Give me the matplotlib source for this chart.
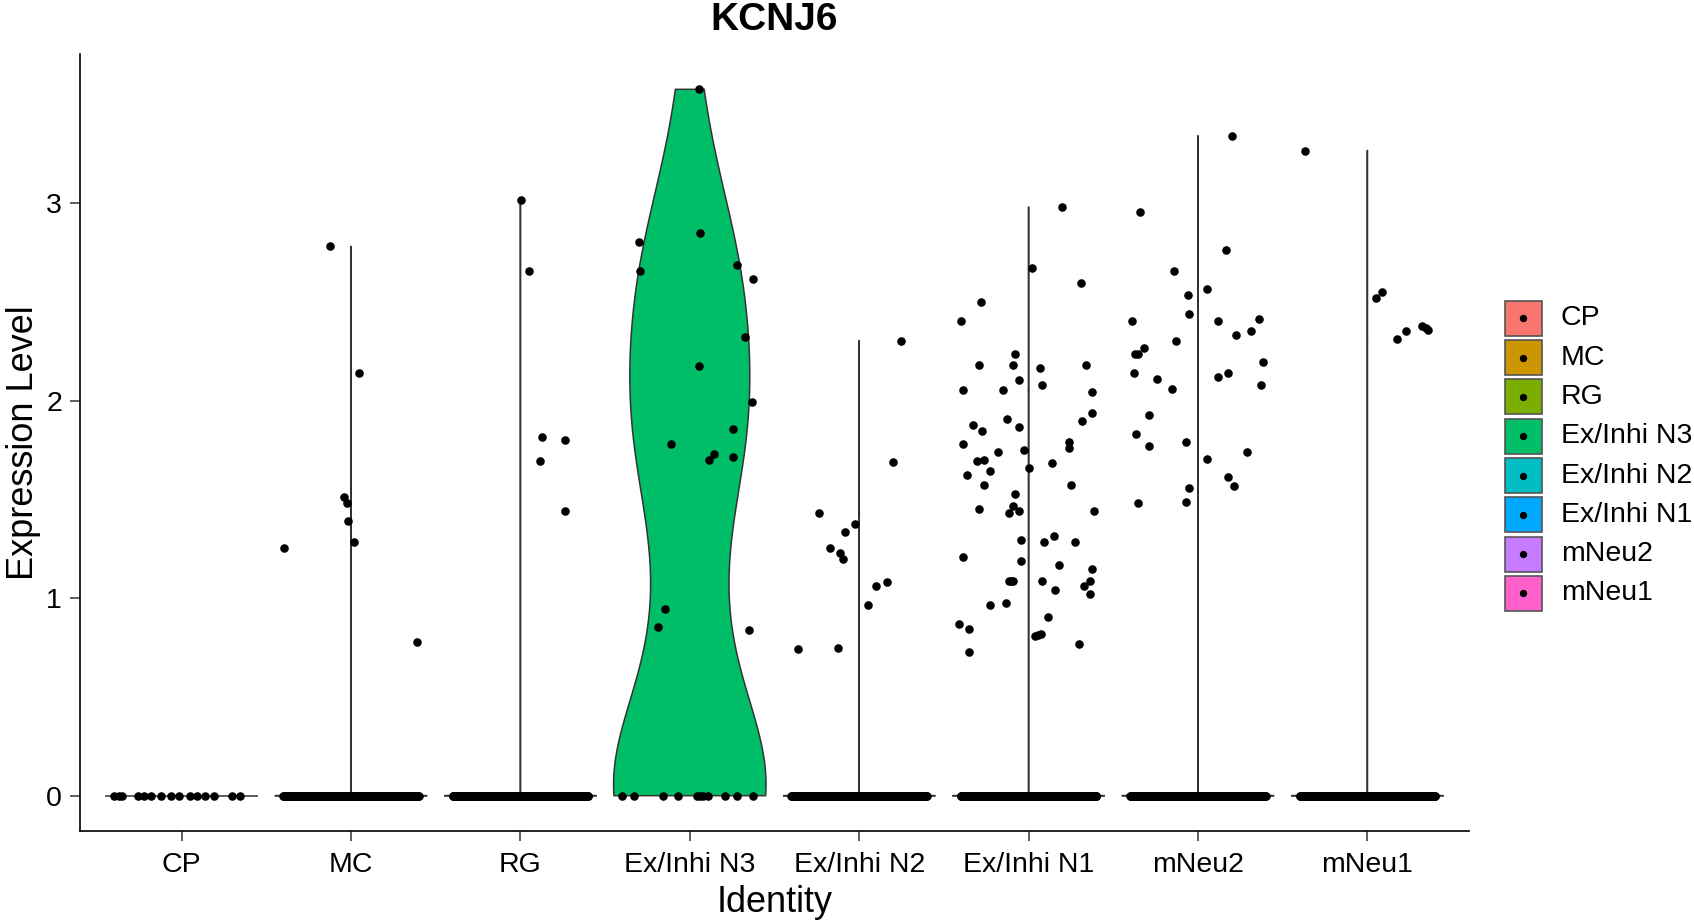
import numpy as np
import matplotlib
matplotlib.use("Agg")
import matplotlib.pyplot as plt
from matplotlib.patches import Rectangle

plt.rcParams['font.family'] = ['Liberation Sans', 'DejaVu Sans']

# Cell identities and their ggplot hue colours
identities = ['CP', 'MC', 'RG', 'Ex/Inhi N3', 'Ex/Inhi N2', 'Ex/Inhi N1', 'mNeu2', 'mNeu1']
colors = ['#F8766D', '#CD9600', '#7CAE00', '#00BE67', '#00BFC4', '#00A9FF', '#C77CFF', '#FF61CC']

# number of cells with zero expression in each identity
zero_counts = [15, 280, 320, 11, 260, 380, 300, 260]

# horizontal jitter of the zero cells where the points are sparse
cp_zero_jitter = [-0.40, -0.37, -0.35, -0.26, -0.22, -0.18, -0.12, -0.06,
                  -0.015, 0.05, 0.09, 0.14, 0.19, 0.30, 0.345]
n3_zero_jitter = [-0.40, -0.33, -0.16, -0.07, 0.04, 0.06, 0.08, 0.11, 0.21, 0.28, 0.375]

# non-zero expression values and their jitter
cp_expr = []
cp_jitter = []

mc_expr = [1.256, 2.782, 2.141, 1.511, 1.481, 1.393, 1.286, 0.780]
mc_jitter = [-0.395, -0.124, 0.049, -0.041, -0.022, -0.019, 0.016, 0.39]

rg_expr = [3.015, 2.656, 1.819, 1.80, 1.695, 1.442]
rg_jitter = [0.004, 0.05, 0.128, 0.266, 0.118, 0.266]

n3_expr = [3.578, 2.803, 2.658, 2.852, 2.687, 2.617, 2.324, 2.179, 1.995,
           1.859, 1.782, 1.733, 1.702, 1.714, 0.944, 0.855, 0.838]
n3_jitter = [0.056, -0.30, -0.295, 0.062, 0.28, 0.375, 0.324, 0.056, 0.369,
             0.254, -0.11, 0.145, 0.114, 0.254, -0.148, -0.19, 0.35]

n2_expr = [2.305, 1.691, 1.430, 1.374, 1.334, 1.256, 1.228, 1.197, 1.081,
           1.061, 0.965, 0.742, 0.750]
n2_jitter = [0.248, 0.202, -0.24, -0.024, -0.081, -0.171, -0.116, -0.093, 0.167,
             0.1, 0.053, -0.364, -0.125]

n1_expr = [2.982, 2.671, 2.597, 2.499, 2.403, 2.239, 2.180, 2.180, 2.168, 2.180,
           2.104, 2.054, 2.054, 2.082, 2.044, 1.936, 1.907, 1.897, 1.878, 1.848,
           1.868, 1.780, 1.791, 1.762, 1.742, 1.752, 1.693, 1.701, 1.662, 1.683,
           1.644, 1.625, 1.575, 1.575, 1.528, 1.468, 1.450, 1.430, 1.440, 1.440,
           1.293, 1.283, 1.314, 1.283, 1.207, 1.187, 1.167, 1.148, 1.089, 1.089,
           1.089, 1.089, 1.089, 1.042, 1.062, 1.022, 0.965, 0.975, 0.904, 0.869,
           0.846, 0.809, 0.813, 0.819, 0.769, 0.730]
n1_jitter = [0.2, 0.02, 0.307, -0.283, -0.397, -0.08, -0.294, -0.092, 0.065, 0.337,
             -0.057, -0.388, -0.15, 0.081, 0.374, 0.374, -0.126, 0.318, -0.33, -0.273,
             -0.057, -0.388, 0.239, 0.239, -0.183, -0.027, -0.307, -0.261, 0.0, 0.136,
             -0.226, -0.362, -0.261, 0.249, -0.08, -0.092, -0.295, -0.114, -0.057, 0.384,
             -0.047, 0.091, 0.148, 0.272, -0.388, -0.047, 0.18, 0.374, -0.114, -0.102,
             -0.09, 0.079, 0.362, 0.156, 0.327, 0.362, -0.226, -0.136, 0.112, -0.409,
             -0.352, 0.035, 0.056, 0.072, 0.295, -0.352]

mneu2_expr = [3.343, 2.956, 2.762, 2.656, 2.568, 2.538, 2.442, 2.403, 2.403, 2.413,
              2.356, 2.335, 2.305, 2.268, 2.239, 2.239, 2.198, 2.141, 2.121, 2.141,
              2.111, 2.082, 2.062, 1.926, 1.830, 1.770, 1.791, 1.742, 1.703, 1.615,
              1.568, 1.556, 1.481, 1.489]
mneu2_jitter = [0.2, -0.344, 0.166, -0.139, 0.051, -0.061, -0.051, -0.389, 0.119, 0.361,
                0.313, 0.223, -0.128, -0.321, -0.37, -0.354, 0.382, -0.38, 0.119, 0.175,
                -0.241, 0.37, -0.153, -0.287, -0.368, -0.287, -0.073, 0.29, 0.051, 0.175,
                0.211, -0.051, -0.356, -0.073]

mneu1_expr = [3.268, 2.549, 2.519, 2.356, 2.315, 2.377, 2.367, 2.361]
mneu1_jitter = [-0.37, 0.085, 0.051, 0.23, 0.173, 0.323, 0.344, 0.36]

expr = [cp_expr, mc_expr, rg_expr, n3_expr, n2_expr, n1_expr, mneu2_expr, mneu1_expr]
jitter = [cp_jitter, mc_jitter, rg_jitter, n3_jitter, n2_jitter, n1_jitter,
          mneu2_jitter, mneu1_jitter]


def violin_outline(values, adjust=0.9, n=512):
    """Gaussian KDE over the data range (trimmed), scaled to unit max width."""
    values = np.asarray(values, dtype=float)
    lo_v, hi_v = values.min(), values.max()
    if hi_v == lo_v:
        return np.array([lo_v, hi_v]), np.array([1.0, 1.0])
    sd = values.std(ddof=1)
    q25, q75 = np.percentile(values, [25, 75])
    iqr = (q75 - q25) / 1.34
    spread = min(sd, iqr) if iqr > 0 else 1e-3
    bw = adjust * 0.9 * spread * len(values) ** -0.2
    grid = np.linspace(lo_v, hi_v, n)
    dens = np.exp(-0.5 * ((grid[:, None] - values[None, :]) / bw) ** 2).sum(axis=1)
    return grid, dens / dens.max()


fig = plt.figure(figsize=(16.94, 9.22), dpi=100)
ax = fig.add_axes([80 / 1694, 1 - 831 / 922, 1389 / 1694, 777 / 922])

all_max = 0
for i, name in enumerate(identities):
    nz = zero_counts[i]
    vals = np.concatenate([np.zeros(nz), np.asarray(expr[i], dtype=float)])
    all_max = max(all_max, vals.max())
    grid, w = violin_outline(vals)
    half = 0.45 * w
    xs = np.concatenate([i + half, (i - half)[::-1]])
    ys = np.concatenate([grid, grid[::-1]])
    ax.fill(xs, ys, facecolor=colors[i], edgecolor='#333333', linewidth=1.1, zorder=2)

for i, name in enumerate(identities):
    nz = zero_counts[i]
    if name == 'CP':
        zj = np.asarray(cp_zero_jitter)
    elif name == 'Ex/Inhi N3':
        zj = np.asarray(n3_zero_jitter)
    else:
        zj = np.linspace(-0.4, 0.4, nz)
    px = np.concatenate([i + zj, i + np.asarray(jitter[i], dtype=float)])
    py = np.concatenate([np.zeros(len(zj)), np.asarray(expr[i], dtype=float)])
    ax.scatter(px, py, s=38, color='black', linewidths=0, zorder=3)

pad = all_max * 0.05
ax.set_ylim(-pad, all_max + pad)
ax.set_xlim(-0.6, len(identities) - 0.4)
ax.set_xticks(range(len(identities)))
ax.set_xticklabels(identities)
ax.set_yticks([0, 1, 2, 3])
ax.tick_params(axis='both', labelsize=20.5, length=7, width=1.1, color='#333333',
               labelcolor='black')
ax.tick_params(axis='x', pad=8)
ax.tick_params(axis='y', pad=6)
for side in ['top', 'right']:
    ax.spines[side].set_visible(False)
for side in ['left', 'bottom']:
    ax.spines[side].set_linewidth(1.2)
    ax.spines[side].set_color('black')

ax.set_title('KCNJ6', fontsize=28, fontweight='bold', pad=17)
ax.set_xlabel('Identity', fontsize=26, labelpad=5)
ax.set_ylabel('Expression Level', fontsize=26, labelpad=4)

# legend drawn in pixel coordinates
leg = fig.add_axes([0, 0, 1, 1], zorder=5)
leg.set_xlim(0, 1694)
leg.set_ylim(922, 0)
leg.axis('off')
for k, name in enumerate(identities):
    cy = 318.3 + k * 39.3
    leg.add_patch(Rectangle((1505, cy - 17.5), 36.5, 35, facecolor=colors[k],
                            edgecolor='#555555', linewidth=1.2))
    leg.scatter([1523.3], [cy], s=28, color='black', linewidths=0)
    leg.text(1561, cy, name, fontsize=20.5, va='center', ha='left')

fig.savefig('out.png', dpi=100)
